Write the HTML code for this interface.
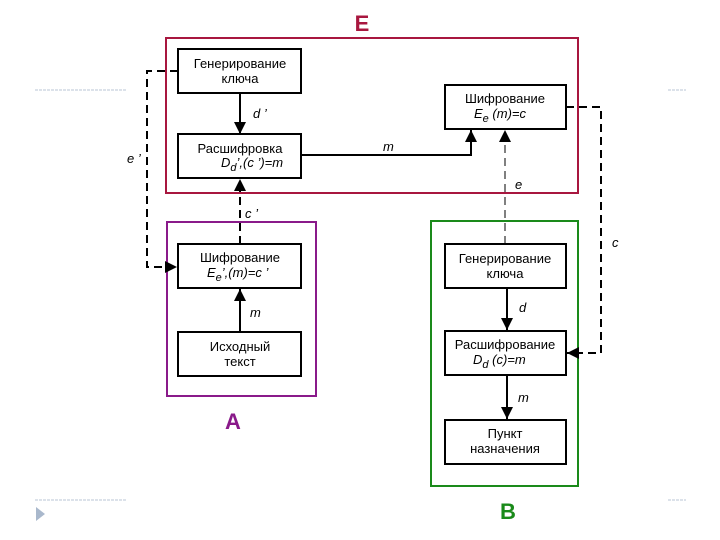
<!DOCTYPE html>
<html><head><meta charset="utf-8"><style>
html,body{margin:0;padding:0;background:#fff;}
svg{display:block;}
text{font-family:"Liberation Sans",sans-serif;}
</style></head><body>
<svg width="720" height="540" viewBox="0 0 720 540" xmlns="http://www.w3.org/2000/svg">
<defs>
<marker id="ar" viewBox="0 0 10 10" refX="10" refY="5" markerWidth="12" markerHeight="12" markerUnits="userSpaceOnUse" orient="auto">
<path d="M0,0 L10,5 L0,10 z" fill="#000"/></marker>
</defs>
<g stroke="#b8c4d4" stroke-width="1" stroke-dasharray="3,1">
<line x1="35" y1="90" x2="127" y2="90"/><line x1="668" y1="90" x2="686" y2="90"/>
<line x1="35" y1="500" x2="127" y2="500"/><line x1="668" y1="500" x2="686" y2="500"/>
</g>
<path d="M36,507 L45,514 L36,521 z" fill="#a9b8cc"/>
<rect x="166" y="38" width="412" height="155" fill="none" stroke="#a8173f" stroke-width="2"/>
<rect x="167" y="222" width="149" height="174" fill="none" stroke="#8a1a8a" stroke-width="2"/>
<rect x="431" y="221" width="147" height="265" fill="none" stroke="#1a8a1a" stroke-width="2"/>
<text x="362" y="31" font-size="22" font-weight="bold" fill="#a8173f" text-anchor="middle">E</text>
<text x="233" y="429" font-size="22" font-weight="bold" fill="#8a1a8a" text-anchor="middle">A</text>
<text x="508" y="519" font-size="22" font-weight="bold" fill="#1a8a1a" text-anchor="middle">B</text>
<g fill="none" stroke="#000" stroke-width="2">
<line x1="240" y1="93" x2="240" y2="134" marker-end="url(#ar)"/>
<polyline points="301,155 471,155 471,130" marker-end="url(#ar)"/>
<line x1="240" y1="332" x2="240" y2="289" marker-end="url(#ar)"/>
<line x1="507" y1="288" x2="507" y2="330" marker-end="url(#ar)"/>
<line x1="507" y1="375" x2="507" y2="419" marker-end="url(#ar)"/>
</g>
<g fill="none" stroke="#000" stroke-width="2" stroke-dasharray="8,5">
<polyline points="178,71 147,71 147,267 177,267" marker-end="url(#ar)"/>
<line x1="240" y1="244" x2="240" y2="179" marker-end="url(#ar)"/>
<polyline points="566,107 601,107 601,353 567,353" marker-end="url(#ar)"/>
</g>
<line x1="505" y1="244" x2="505" y2="130" stroke="#000" stroke-width="1" stroke-dasharray="8,5" marker-end="url(#ar)"/>
<g fill="#fff" stroke="#000" stroke-width="2">
<rect x="178" y="49" width="123" height="44"/>
<rect x="178" y="134" width="123" height="44"/>
<rect x="445" y="85" width="121" height="44"/>
<rect x="178" y="244" width="123" height="44"/>
<rect x="178" y="332" width="123" height="44"/>
<rect x="445" y="244" width="121" height="44"/>
<rect x="445" y="331" width="121" height="44"/>
<rect x="445" y="420" width="121" height="44"/>
</g>
<g font-size="13" fill="#000" text-anchor="middle">
<text x="240" y="68">Генерирование</text><text x="240" y="83">ключа</text>
<text x="240" y="153">Расшифровка</text>
<text x="505" y="103">Шифрование</text>
<text x="240" y="262">Шифрование</text>
<text x="240" y="351">Исходный</text><text x="240" y="366">текст</text>
<text x="505" y="263">Генерирование</text><text x="505" y="278">ключа</text>
<text x="505" y="349">Расшифрование</text>
<text x="505" y="438">Пункт</text><text x="505" y="453">назначения</text>
</g>
<g font-size="13" font-style="italic" fill="#000">
<text x="221" y="167">D<tspan font-size="11" dy="4">d</tspan><tspan dy="-4">’,(c ’)=m</tspan></text>
<text x="474" y="118">E<tspan font-size="11" dy="4">e</tspan><tspan dy="-4"> (m)=c</tspan></text>
<text x="207" y="277">E<tspan font-size="11" dy="4">e</tspan><tspan dy="-4">’,(m)=c ’</tspan></text>
<text x="473" y="364">D<tspan font-size="11" dy="4">d</tspan><tspan dy="-4"> (c)=m</tspan></text>
<text x="253" y="118">d ’</text>
<text x="383" y="151">m</text>
<text x="127" y="163">e ’</text>
<text x="245" y="218">c ’</text>
<text x="515" y="189">e</text>
<text x="612" y="247">c</text>
<text x="250" y="317">m</text>
<text x="519" y="312">d</text>
<text x="518" y="402">m</text>
</g>
</svg>
</body></html>
